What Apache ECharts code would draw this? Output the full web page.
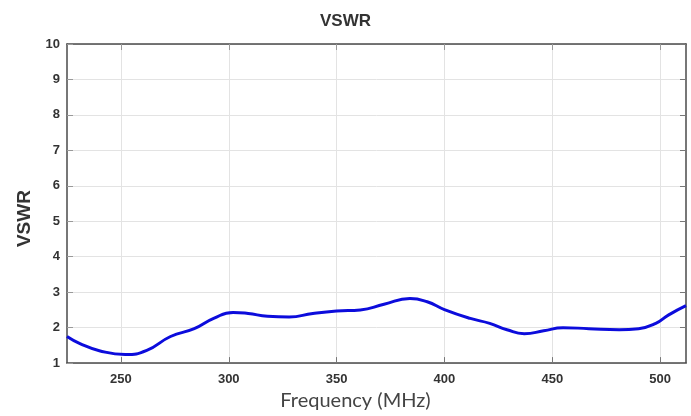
<!DOCTYPE html>
<html>
<head>
<meta charset="utf-8">
<script src="https://cdn.jsdelivr.net/npm/echarts@6/dist/echarts.min.js"></script>
<style>
html,body{margin:0;padding:0;background:#fff;}
#main{width:691px;height:416px;}
</style>
</head>
<body>
<div id="main"></div>
<script>
const freq = [225, 231, 240, 252, 262, 273, 284, 293, 302, 309, 318, 328, 339, 350, 361, 372, 384, 392, 400, 412, 421, 429, 437, 446, 455, 467, 481, 490, 498, 504, 512];
const vswr = [1.75, 1.55, 1.35, 1.24, 1.36, 1.75, 1.97, 2.26, 2.43, 2.40, 2.32, 2.30, 2.40, 2.47, 2.50, 2.66, 2.82, 2.73, 2.51, 2.26, 2.12, 1.94, 1.83, 1.91, 2.00, 1.97, 1.94, 1.97, 2.12, 2.36, 2.62];
const xTicks = [250, 300, 350, 400, 450, 500];
const xMin = 225, xMax = 512;
const yMin = 1, yMax = 10;

const chart = echarts.init(document.getElementById('main'), null, {renderer: 'canvas'});
const axisColor = '#4a4a4a';
const tickLabel = {color: '#333', fontFamily: 'Liberation Sans', fontWeight: 'bold', fontSize: 13};
chart.setOption({
  animation: false,
  backgroundColor: '#fff',
  title: {
    text: 'VSWR', left: 'center', top: 8,
    textStyle: {fontFamily: 'Liberation Sans', fontWeight: 'bold', fontSize: 17, color: '#333'}
  },
  grid: {left: 67, right: 5, top: 44, bottom: 50, containLabel: false},
  xAxis: [{
    type: 'value', min: xMin, max: xMax, position: 'bottom',
    name: 'Frequency (MHz)', nameLocation: 'middle', nameGap: 27,
    nameTextStyle: {fontFamily: 'Lato', fontSize: 20, color: '#444', padding: [0, 42, 0, 0]},
    axisLine: {show: true, lineStyle: {color: axisColor, width: 1.5}},
    axisTick: {show: true, inside: true, length: 6, customValues: xTicks, lineStyle: {color: '#777'}},
    axisLabel: Object.assign({customValues: xTicks, margin: 10}, tickLabel),
    splitLine: {show: true, lineStyle: {color: '#e3e3e3', width: 1}}
  }, {
    type: 'value', min: xMin, max: xMax, position: 'top',
    axisLine: {show: true, lineStyle: {color: axisColor, width: 1.5}},
    axisTick: {show: true, inside: true, length: 6, customValues: xTicks, lineStyle: {color: '#999'}},
    axisLabel: {show: false},
    splitLine: {show: false}
  }],
  yAxis: [{
    type: 'value', min: yMin, max: yMax, interval: 1, position: 'left',
    name: 'VSWR', nameLocation: 'middle', nameGap: 33, nameRotate: 90,
    nameTextStyle: {fontFamily: 'Liberation Sans', fontWeight: 'bold', fontSize: 19, color: '#333', padding: [0, 30, 0, 0]},
    axisLine: {show: true, lineStyle: {color: axisColor, width: 1.5}},
    axisTick: {show: true, inside: true, length: 6, lineStyle: {color: '#999'}},
    axisLabel: Object.assign({margin: 7}, tickLabel),
    splitLine: {show: true, lineStyle: {color: '#e3e3e3', width: 1}}
  }, {
    type: 'value', min: yMin, max: yMax, interval: 1, position: 'right',
    axisLine: {show: true, lineStyle: {color: axisColor, width: 1.5}},
    axisTick: {show: true, inside: true, length: 6, lineStyle: {color: '#777'}},
    axisLabel: {show: false},
    splitLine: {show: false}
  }],
  series: [{
    type: 'line',
    data: freq.map((f, i) => [f, vswr[i]]),
    smooth: 0.5,
    showSymbol: false,
    lineStyle: {color: '#0c0cdc', width: 3},
    itemStyle: {color: '#0c0cdc'},
    clip: true
  }]
});
</script>
</body>
</html>
